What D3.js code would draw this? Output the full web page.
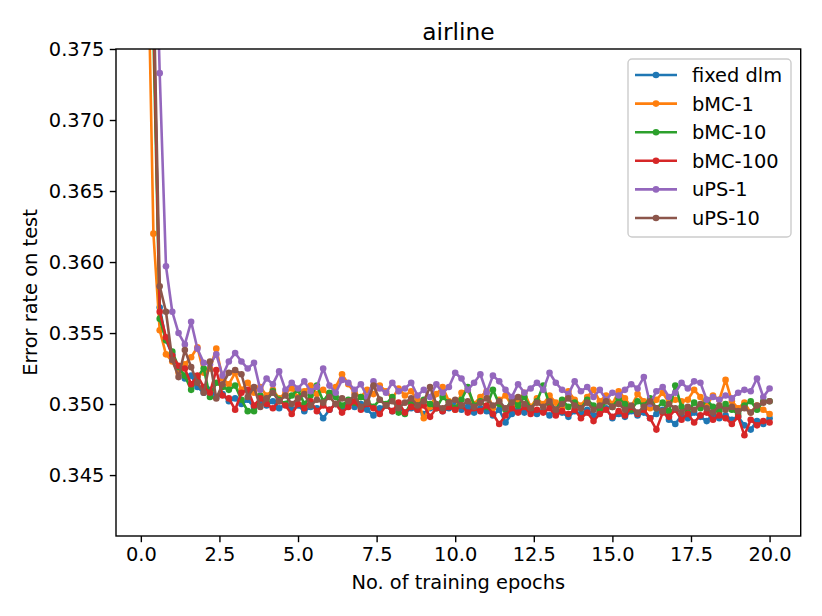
<!DOCTYPE html>
<html>
<head>
<meta charset="utf-8">
<script src="https://cdn.jsdelivr.net/npm/d3@7"></script>
<style>
  body { margin: 0; background: #fff; }
  svg { font-family: "DejaVu Sans", sans-serif; }
</style>
</head>
<body>
<svg id="chart"></svg>
<script>
const epochs = [0.2, 0.4, 0.6, 0.8, 1.0, 1.2, 1.4, 1.6, 1.8, 2.0,
  2.2, 2.4, 2.6, 2.8, 3.0, 3.2, 3.4, 3.6, 3.8, 4.0,
  4.2, 4.4, 4.6, 4.8, 5.0, 5.2, 5.4, 5.6, 5.8, 6.0,
  6.2, 6.4, 6.6, 6.8, 7.0, 7.2, 7.4, 7.6, 7.8, 8.0,
  8.2, 8.4, 8.6, 8.8, 9.0, 9.2, 9.4, 9.6, 9.8, 10.0,
  10.2, 10.4, 10.6, 10.8, 11.0, 11.2, 11.4, 11.6, 11.8, 12.0,
  12.2, 12.4, 12.6, 12.8, 13.0, 13.2, 13.4, 13.6, 13.8, 14.0,
  14.2, 14.4, 14.6, 14.8, 15.0, 15.2, 15.4, 15.6, 15.8, 16.0,
  16.2, 16.4, 16.6, 16.8, 17.0, 17.2, 17.4, 17.6, 17.8, 18.0,
  18.2, 18.4, 18.6, 18.8, 19.0, 19.2, 19.4, 19.6, 19.8, 20.0];

const fixedDlm = [0.392, 0.378, 0.3568, 0.3545, 0.3535, 0.3525, 0.3518, 0.3520, 0.3512, 0.3508,
  0.3510, 0.3505, 0.3507, 0.3502, 0.3504, 0.3500, 0.3503, 0.3498, 0.3501, 0.3499,
  0.3502, 0.3497, 0.3500, 0.3496, 0.3499, 0.3495, 0.3498, 0.3497, 0.3490, 0.3496,
  0.3500, 0.3497, 0.3502, 0.3498, 0.3500, 0.3496, 0.3492, 0.3497, 0.3499, 0.3495,
  0.3498, 0.3494, 0.3497, 0.3496, 0.3493, 0.3497, 0.3499, 0.3495, 0.3497, 0.3500,
  0.3496, 0.3498, 0.3494, 0.3497, 0.3495, 0.3492, 0.3496, 0.3487, 0.3493, 0.3496,
  0.3494, 0.3497, 0.3493, 0.3495, 0.3492, 0.3496, 0.3494, 0.3491, 0.3495, 0.3493,
  0.3496, 0.3492, 0.3494, 0.3497, 0.3490, 0.3493, 0.3491, 0.3495, 0.3492, 0.3494,
  0.3490, 0.3493, 0.3496, 0.3489, 0.3486, 0.3492, 0.3490, 0.3494, 0.3491, 0.3488,
  0.3493, 0.3490, 0.3492, 0.3489, 0.3491, 0.3485, 0.3482, 0.3488, 0.3486, 0.3490];

const bmc1 = [0.385, 0.3620, 0.3552, 0.3535, 0.3530, 0.3522, 0.3528, 0.3533, 0.3540, 0.3522,
  0.3525, 0.3539, 0.3518, 0.3514, 0.3522, 0.3510, 0.3515, 0.3508, 0.3512, 0.3506,
  0.3510, 0.3504, 0.3508, 0.3511, 0.3505, 0.3509, 0.3513, 0.3507, 0.3510, 0.3506,
  0.3512, 0.3521, 0.3514, 0.3508, 0.3505, 0.3510, 0.3507, 0.3513, 0.3509, 0.3504,
  0.3511, 0.3506, 0.3509, 0.3503, 0.3490, 0.3498, 0.3507, 0.3512, 0.3502, 0.3496,
  0.3508, 0.3510, 0.3500, 0.3505, 0.3509, 0.3497, 0.3503, 0.3506, 0.3499, 0.3502,
  0.3508, 0.3498, 0.3504, 0.3500, 0.3506, 0.3501, 0.3497, 0.3509, 0.3503, 0.3499,
  0.3505, 0.3510, 0.3502, 0.3506, 0.3500, 0.3509, 0.3504, 0.3498, 0.3507, 0.3502,
  0.3497, 0.3503, 0.3508, 0.3501, 0.3503, 0.3502, 0.3503, 0.3510, 0.3505, 0.3499,
  0.3506, 0.3503, 0.3517, 0.3502, 0.3497, 0.3501, 0.3494, 0.3499, 0.3496, 0.3493];

const bmc10 = [0.390, 0.376, 0.3560, 0.3545, 0.3537, 0.3526, 0.3520, 0.3510, 0.3519, 0.3525,
  0.3505, 0.3515, 0.3512, 0.3510, 0.3513, 0.3503, 0.3495, 0.3495, 0.3506, 0.3502,
  0.3509, 0.3503, 0.3500, 0.3506, 0.3510, 0.3500, 0.3506, 0.3513, 0.3502, 0.3508,
  0.3505, 0.3499, 0.3503, 0.3501, 0.3505, 0.3502, 0.3498, 0.3503, 0.3500, 0.3505,
  0.3494, 0.3493, 0.3501, 0.3499, 0.3503, 0.3500, 0.3497, 0.3505, 0.3501, 0.3497,
  0.3503, 0.3512, 0.3499, 0.3502, 0.3498, 0.3510, 0.3500, 0.3496, 0.3503, 0.3499,
  0.3505, 0.3497, 0.3502, 0.3513, 0.3500, 0.3496, 0.3503, 0.3498, 0.3501, 0.3497,
  0.3503, 0.3499, 0.3495, 0.3502, 0.3498, 0.3504, 0.3500, 0.3496, 0.3502, 0.3499,
  0.3504, 0.3497, 0.3501, 0.3495, 0.3513, 0.3498, 0.3494, 0.3501, 0.3497, 0.3503,
  0.3498, 0.3495, 0.3500, 0.3496, 0.3493, 0.3499, 0.3502, 0.3496, 0.3502, 0.3502];

const bmc100 = [0.392, 0.378, 0.3565, 0.3547, 0.3534, 0.3527, 0.3525, 0.3514, 0.3520, 0.3512,
  0.3508, 0.3524, 0.3506, 0.3504, 0.3496, 0.3508, 0.3510, 0.3499, 0.3504, 0.3500,
  0.3497, 0.3502, 0.3499, 0.3493, 0.3500, 0.3497, 0.3502, 0.3495, 0.3499, 0.3496,
  0.3500, 0.3494, 0.3498, 0.3502, 0.3496, 0.3500, 0.3497, 0.3493, 0.3499, 0.3495,
  0.3501, 0.3494, 0.3498, 0.3496, 0.3499, 0.3491, 0.3497, 0.3495, 0.3498, 0.3496,
  0.3499, 0.3494, 0.3497, 0.3495, 0.3499, 0.3493, 0.3486, 0.3492, 0.3497, 0.3494,
  0.3498, 0.3493, 0.3496, 0.3494, 0.3497, 0.3492, 0.3495, 0.3493, 0.3496, 0.3490,
  0.3494, 0.3488, 0.3493, 0.3496, 0.3491, 0.3495, 0.3492, 0.3498, 0.3493, 0.3496,
  0.3490, 0.3482, 0.3494, 0.3491, 0.3496, 0.3489, 0.3493, 0.3487, 0.3492, 0.3494,
  0.3489, 0.3492, 0.3490, 0.3486, 0.3491, 0.3478, 0.3489, 0.3485, 0.3488, 0.3487];

const ups1 = [0.400, 0.390, 0.3733, 0.3597, 0.3565, 0.3550, 0.3542, 0.3558, 0.3539, 0.3529,
  0.3528, 0.3535, 0.3520, 0.3530, 0.3536, 0.3530, 0.3525, 0.3529, 0.3510, 0.3518,
  0.3514, 0.3523, 0.3510, 0.3515, 0.3511, 0.3516, 0.3509, 0.3512, 0.3525, 0.3513,
  0.3508, 0.3517, 0.3515, 0.3510, 0.3514, 0.3505, 0.3516, 0.3511, 0.3508, 0.3515,
  0.3509, 0.3511, 0.3515, 0.3506, 0.3510, 0.3505, 0.3514, 0.3508, 0.3512, 0.3522,
  0.3518, 0.3510, 0.3515, 0.3521, 0.3508, 0.3520, 0.3516, 0.3510, 0.3505, 0.3514,
  0.3508, 0.3511, 0.3515, 0.3510, 0.3522, 0.3515, 0.3510, 0.3507, 0.3516, 0.3509,
  0.3512, 0.3505, 0.3510, 0.3503, 0.3508, 0.3506, 0.3510, 0.3514, 0.3511, 0.3519,
  0.3500, 0.3509, 0.3512, 0.3505, 0.3508, 0.3515, 0.3511, 0.3516, 0.3515, 0.3503,
  0.3505, 0.3503, 0.3506, 0.3504, 0.3508, 0.3510, 0.3509, 0.3518, 0.3505, 0.3511];

const ups10 = [0.398, 0.380, 0.3583, 0.3565, 0.3531, 0.3519, 0.3538, 0.3526, 0.3515, 0.3508,
  0.3530, 0.3504, 0.3514, 0.3522, 0.3524, 0.3521, 0.3505, 0.3512, 0.3498, 0.3504,
  0.3508, 0.3502, 0.3506, 0.3500, 0.3504, 0.3507, 0.3499, 0.3503, 0.3501, 0.3505,
  0.3500, 0.3504, 0.3502, 0.3506, 0.3498, 0.3501, 0.3513, 0.3503, 0.3499, 0.3502,
  0.3497, 0.3501, 0.3504, 0.3499, 0.3502, 0.3512, 0.3500, 0.3497, 0.3501, 0.3503,
  0.3499, 0.3502, 0.3498, 0.3501, 0.3504, 0.3499, 0.3502, 0.3497, 0.3501, 0.3505,
  0.3500, 0.3497, 0.3501, 0.3498, 0.3502, 0.3496, 0.3500, 0.3504, 0.3499, 0.3497,
  0.3501, 0.3496, 0.3499, 0.3502, 0.3498, 0.3500, 0.3496, 0.3499, 0.3494, 0.3498,
  0.3502, 0.3497, 0.3495, 0.3500, 0.3497, 0.3494, 0.3498, 0.3496, 0.3500, 0.3497,
  0.3494, 0.3499, 0.3496, 0.3498, 0.3495, 0.3497, 0.3494, 0.3499, 0.3501, 0.3502];

const seriesNames = ['fixed dlm', 'bMC-1', 'bMC-10', 'bMC-100', 'uPS-1', 'uPS-10'];
const seriesValues = [fixedDlm, bmc1, bmc10, bmc100, ups1, ups10];
const colors = ['#1f77b4', '#ff7f0e', '#2ca02c', '#d62728', '#9467bd', '#8c564b'];
const xTicks = [0, 2.5, 5, 7.5, 10, 12.5, 15, 17.5, 20];
const yTicks = [0.345, 0.350, 0.355, 0.360, 0.365, 0.370, 0.375];

const w = 822, h = 616;
const margin = {left: 116, right: 21.3, top: 49, bottom: 80};
const fontSize = '19.4px';

const xScale = d3.scaleLinear()
  .domain([-0.79, 20.99])
  .range([margin.left, w - margin.right]);

const yScale = d3.scaleLinear()
  .domain([0.34071, 0.375])
  .range([h - margin.bottom, margin.top]);

const chart = d3.select('#chart')
  .attr('width', w)
  .attr('height', h);

chart.append('defs').append('clipPath')
  .attr('id', 'plot-clip')
  .append('rect')
  .attr('x', margin.left)
  .attr('y', margin.top)
  .attr('width', w - margin.left - margin.right)
  .attr('height', h - margin.top - margin.bottom);

// axes
const xAxis = chart.append('g')
  .attr('transform', `translate(0, ${h - margin.bottom})`)
  .call(d3.axisBottom(xScale).tickValues(xTicks).tickFormat(d3.format('.1f'))
    .tickSize(6.2).tickPadding(5));

const yAxis = chart.append('g')
  .attr('transform', `translate(${margin.left}, 0)`)
  .call(d3.axisLeft(yScale).tickValues(yTicks).tickFormat(d3.format('.3f'))
    .tickSize(6.2).tickPadding(5.5));

[xAxis, yAxis].forEach(a => {
  a.select('.domain').remove();
  a.selectAll('.tick line').attr('stroke', '#000').attr('stroke-width', 1.4);
  a.selectAll('.tick text')
    .attr('font-family', '"DejaVu Sans", sans-serif')
    .attr('font-size', fontSize)
    .attr('fill', '#000');
});

// lines with dot markers
const plot = chart.append('g').attr('clip-path', 'url(#plot-clip)');

seriesValues.forEach((vals, k) => {
  const data = vals.map((v, i) => ({epoch: epochs[i], err: v}));
  const line = d3.line()
    .x(d => xScale(d.epoch))
    .y(d => yScale(d.err));

  plot.append('path')
    .datum(data)
    .attr('d', line)
    .attr('fill', 'none')
    .attr('stroke', colors[k])
    .attr('stroke-width', 2.6)
    .attr('stroke-linejoin', 'round')
    .attr('stroke-linecap', 'square');

  plot.append('g')
    .selectAll('circle')
    .data(data)
    .join('circle')
    .attr('cx', d => xScale(d.epoch))
    .attr('cy', d => yScale(d.err))
    .attr('r', 3.3)
    .attr('fill', colors[k]);
});

// frame
chart.append('rect')
  .attr('x', margin.left)
  .attr('y', margin.top)
  .attr('width', w - margin.left - margin.right)
  .attr('height', h - margin.top - margin.bottom)
  .attr('fill', 'none')
  .attr('stroke', '#000')
  .attr('stroke-width', 1.4);

// title and labels
chart.append('text')
  .attr('x', (margin.left + w - margin.right) / 2)
  .attr('y', 40)
  .attr('text-anchor', 'middle')
  .attr('font-size', '23.3px')
  .text('airline');

chart.append('text')
  .attr('x', (margin.left + w - margin.right) / 2)
  .attr('y', 589)
  .attr('text-anchor', 'middle')
  .attr('font-size', fontSize)
  .text('No. of training epochs');

chart.append('text')
  .attr('transform', `translate(37, ${(margin.top + h - margin.bottom) / 2}) rotate(-90)`)
  .attr('text-anchor', 'middle')
  .attr('font-size', fontSize)
  .text('Error rate on test');

// legend
const legend = chart.append('g');
legend.append('rect')
  .attr('x', 628)
  .attr('y', 59)
  .attr('rx', 4)
  .attr('width', 163)
  .attr('height', 178)
  .attr('fill', 'rgba(255,255,255,0.8)')
  .attr('stroke', '#cccccc')
  .attr('stroke-width', 1.4);

seriesNames.forEach((name, k) => {
  const y = 75 + k * 28.6;
  legend.append('line')
    .attr('x1', 635).attr('x2', 677)
    .attr('y1', y).attr('y2', y)
    .attr('stroke', colors[k])
    .attr('stroke-width', 2.6);
  legend.append('circle')
    .attr('cx', 656).attr('cy', y).attr('r', 3.3)
    .attr('fill', colors[k]);
  legend.append('text')
    .attr('x', 692)
    .attr('y', y + 7)
    .attr('font-size', fontSize)
    .text(name);
});
</script>
</body>
</html>
